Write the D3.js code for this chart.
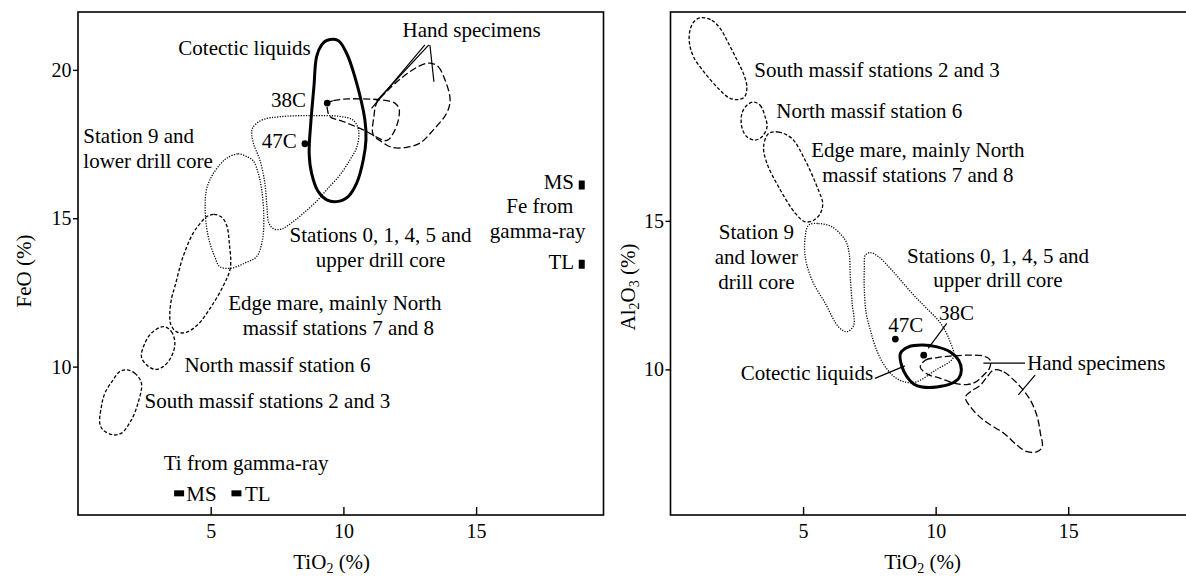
<!DOCTYPE html>
<html>
<head>
<meta charset="utf-8">
<script src="https://cdn.jsdelivr.net/npm/d3@7"></script>
<style>
  body { margin: 0; background: #fff; }
  svg text { font-family: "Liberation Serif", "Times New Roman", serif; fill: #000; }
</style>
</head>
<body>
<svg id="chart" width="1186" height="578"></svg>
<script>
// ---------- tick values ----------
const tio2Ticks = [5, 10, 15];
const feoTicks = [10, 15, 20];
const al2o3Ticks = [10, 15];

// ---------- FeO vs TiO2 fields, [TiO2 %, FeO %] ----------
const feoCotectic = [[9.37,20.99],[9.80,20.99],[10.12,20.56],[10.43,19.77],[10.81,18.31],[10.85,17.64],[10.75,16.97],[10.50,16.18],[10.18,15.73],[9.74,15.56],[9.37,15.62],[9.05,15.90],[8.80,16.52],[8.71,17.19],[8.77,18.20],[8.89,19.44],[8.99,20.45],[9.18,20.84]];
const feoHandA = [[9.39,18.88],[9.62,18.96],[10.12,19.02],[10.75,19.02],[11.38,18.99],[11.94,18.88],[12.10,18.68],[12.07,18.31],[11.88,17.87],[11.63,17.62],[10.75,17.98],[9.99,18.26],[9.49,18.43],[9.39,18.71]];
const feoHandB = [[13.26,20.23],[13.57,20.11],[13.83,19.66],[14.02,18.99],[13.89,18.54],[13.39,17.98],[12.88,17.53],[12.38,17.39],[11.82,17.39],[11.44,17.58],[11.12,17.81],[11.15,18.43],[11.25,18.88],[11.63,19.27],[12.25,19.77],[12.82,20.11]];
const feoStations0145 = [[6.58,18.05],[6.93,18.31],[7.60,18.42],[8.85,18.46],[9.87,18.43],[10.36,18.31],[10.57,17.98],[10.51,17.41],[10.25,16.97],[9.87,16.46],[9.37,15.96],[9.04,15.62],[8.55,15.21],[8.10,14.88],[7.68,14.64],[7.38,14.64],[7.19,14.84],[7.12,15.38],[7.04,16.19],[6.85,16.97],[6.63,17.47],[6.55,17.81]];
const feoStation9 = [[5.60,17.02],[6.03,17.17],[6.35,17.08],[6.60,16.94],[6.79,16.52],[6.92,15.96],[7.00,15.06],[6.95,14.27],[6.73,13.71],[6.29,13.49],[5.78,13.32],[5.34,13.37],[5.15,13.71],[4.97,14.16],[4.84,14.72],[4.79,15.39],[4.84,15.96],[5.03,16.40],[5.34,16.80]];
const feoEdgeMare = [[4.84,15.05],[5.12,15.13],[5.42,15.03],[5.61,14.74],[5.70,14.17],[5.74,13.33],[5.49,12.75],[5.04,12.05],[4.51,11.41],[4.06,11.15],[3.72,11.17],[3.50,11.41],[3.46,11.81],[3.53,12.32],[3.65,12.70],[3.96,13.71],[4.34,14.50],[4.59,14.81]];
const feoNorth6 = [[3.21,11.35],[3.52,11.18],[3.65,10.79],[3.52,10.34],[3.21,10.00],[2.89,9.91],[2.58,10.06],[2.39,10.34],[2.52,10.79],[2.77,11.13]];
const feoSouth23 = [[1.83,9.89],[2.14,9.78],[2.39,9.44],[2.26,8.77],[2.01,8.20],[1.64,7.76],[1.32,7.70],[0.94,7.87],[0.82,8.09],[0.88,8.65],[1.01,9.10],[1.32,9.55],[1.57,9.83]];
const feoSamples = [{name: "38C", tio2: 9.39, value: 18.88}, {name: "47C", tio2: 8.55, value: 17.51}];

// gamma-ray estimates
const tiGamma = [{name: "MS", tio2: 3.81}, {name: "TL", tio2: 5.97}];
const tiGammaFeo = 5.73;
const feGamma = [{name: "MS", feo: 16.12}, {name: "TL", feo: 13.45}];
const feGammaTio2 = 18.98;

// ---------- Al2O3 vs TiO2 fields, [TiO2 %, Al2O3 %] ----------
const alSouth23 = [[1.18,21.84],[1.56,21.75],[1.88,21.47],[2.19,20.97],[2.51,20.41],[2.75,19.96],[2.88,19.51],[2.79,19.17],[2.51,19.08],[2.19,19.15],[1.81,19.45],[1.31,19.96],[0.87,20.52],[0.71,21.02],[0.75,21.47],[0.93,21.75]];
const alNorth6 = [[3.13,19.00],[3.38,18.89],[3.57,18.50],[3.64,18.16],[3.45,17.83],[3.20,17.72],[2.88,17.83],[2.69,18.16],[2.69,18.61],[2.88,18.89]];
const alEdgeMare = [[3.70,17.94],[4.08,17.99],[4.58,17.77],[5.08,17.04],[5.58,16.03],[5.74,15.59],[5.65,15.25],[5.40,15.02],[5.08,14.97],[4.71,15.25],[4.08,16.14],[3.64,16.93],[3.51,17.49]];
const alStation9 = [[5.21,14.86],[5.58,14.91],[6.09,14.80],[6.59,14.35],[6.74,13.90],[6.78,13.12],[6.85,12.22],[6.91,11.49],[6.66,11.27],[6.34,11.43],[5.84,12.22],[5.34,13.00],[5.08,13.79],[5.08,14.46]];
const alStations0145 = [[7.35,13.85],[7.54,13.93],[7.85,13.79],[8.35,13.34],[9.11,12.56],[9.61,12.10],[10.18,11.56],[10.52,10.99],[10.67,10.41],[9.99,9.97],[9.27,9.58],[8.86,9.57],[8.44,9.75],[8.02,10.20],[7.72,10.78],[7.54,11.32],[7.38,11.89],[7.31,12.67],[7.31,13.41]];
const alCotectic = [[8.67,10.54],[8.98,10.76],[9.49,10.82],[10.05,10.76],[10.55,10.59],[10.87,10.31],[10.97,9.98],[10.87,9.70],[10.55,9.51],[10.05,9.41],[9.49,9.41],[9.17,9.51],[8.92,9.75],[8.73,10.09]];
const alHandA = [[9.42,10.08],[9.61,10.31],[10.06,10.40],[10.55,10.45],[11.20,10.48],[11.80,10.45],[12.06,10.31],[12.03,10.04],[11.81,9.81],[11.50,9.57],[11.18,9.49],[10.68,9.54],[10.18,9.70],[9.69,9.84]];
const alHandB = [[12.19,9.98],[12.57,9.92],[12.82,9.75],[13.20,9.41],[13.57,8.97],[13.83,8.41],[13.95,7.85],[14.02,7.40],[13.83,7.23],[13.45,7.23],[13.07,7.45],[12.57,7.85],[11.81,8.29],[11.31,8.74],[11.12,9.06],[11.31,9.25],[11.69,9.47],[11.94,9.75]];
const alSamples = [{name: "47C", tio2: 8.48, value: 11.02}, {name: "38C", tio2: 9.55, value: 10.48}];

// ---------- outline styles ----------
const outlineStyles = {
  cotectic: {width: 3, dash: null},
  hand:     {width: 1.3, dash: "7,3"},
  dashed:   {width: 1.3, dash: "3.5,2"},
  dotted:   {width: 1.3, dash: "1.2,1.4"}
};

const svg = d3.select("#chart");
const FONT = "Liberation Serif, Times New Roman, serif";

function drawPanel(cfg) {
  const x = d3.scaleLinear().domain(cfg.xDomain).range(cfg.xRange);
  const y = d3.scaleLinear().domain(cfg.yDomain).range(cfg.yRange);
  const g = svg.append("g");

  // frame
  g.append("rect")
    .attr("x", cfg.xRange[0]).attr("y", cfg.yRange[1])
    .attr("width", cfg.xRange[1] - cfg.xRange[0])
    .attr("height", cfg.yRange[0] - cfg.yRange[1])
    .attr("fill", "none").attr("stroke", "#000").attr("stroke-width", 1.6);

  // y axis: ticks outside
  const ya = g.append("g").attr("transform", `translate(${cfg.xRange[0]},0)`)
    .call(d3.axisLeft(y).tickValues(cfg.yTicks).tickSize(5).tickPadding(1.5));
  ya.select(".domain").remove();
  ya.selectAll("line").attr("stroke-width", 1.4);
  ya.selectAll("text").attr("font-size", 20).attr("font-family", FONT);

  // x axis: ticks inside
  const xa = g.append("g").attr("transform", `translate(0,${cfg.yRange[0]})`)
    .call(d3.axisBottom(x).tickValues(cfg.xTicks).tickSize(-8).tickPadding(9));
  xa.select(".domain").remove();
  xa.selectAll("line").attr("stroke-width", 1.4);
  xa.selectAll("text").attr("font-size", 20).attr("font-family", FONT);

  // outlines
  const line = d3.line()
    .x(d => x(d[0])).y(d => y(d[1]))
    .curve(d3.curveCatmullRomClosed.alpha(0.5));
  cfg.outlines.forEach(o => {
    const s = outlineStyles[o.style];
    g.append("path")
      .attr("d", line(o.pts))
      .attr("fill", "none")
      .attr("stroke", "#000")
      .attr("stroke-width", s.width)
      .attr("stroke-linejoin", "round")
      .attr("stroke-dasharray", s.dash);
  });

  // leader lines
  cfg.leaders.forEach(l => {
    g.append("line")
      .attr("x1", x(l[0][0])).attr("y1", y(l[0][1]))
      .attr("x2", x(l[1][0])).attr("y2", y(l[1][1]))
      .attr("stroke", "#000").attr("stroke-width", 1.2);
  });

  // sample points
  g.selectAll("circle.sample").data(cfg.samples).join("circle")
    .attr("class", "sample")
    .attr("cx", d => x(d.tio2)).attr("cy", d => y(d.value))
    .attr("r", 3.4).attr("fill", "#000");

  // annotations
  cfg.labels.forEach(l => {
    g.append("text")
      .attr("x", x(l.x)).attr("y", y(l.y))
      .attr("text-anchor", l.a)
      .attr("font-size", 21)
      .text(l.t);
  });

  // axis titles
  const xt = g.append("text")
    .attr("x", cfg.xTitlePos[0]).attr("y", cfg.xTitlePos[1])
    .attr("text-anchor", "middle").attr("font-size", 21);
  cfg.xTitle.forEach(p => xt.append("tspan").text(p.t)
    .attr("font-size", p.sub ? 14 : null).attr("dy", p.dy || 0));

  const yt = g.append("text")
    .attr("transform", `translate(${cfg.yTitlePos[0]},${cfg.yTitlePos[1]}) rotate(-90)`)
    .attr("text-anchor", "middle").attr("font-size", 21);
  cfg.yTitle.forEach(p => yt.append("tspan").text(p.t)
    .attr("font-size", p.sub ? 14 : null).attr("dy", p.dy || 0));

  return {x, y, g};
}

const tio2Title = [{t: "TiO"}, {t: "2", sub: true, dy: 3.5}, {t: " (%)", dy: -3.5}];

// ---------- FeO panel ----------
const left = drawPanel({
  xDomain: [0, 19.8], xRange: [78, 603.5],
  yDomain: [5, 21.95], yRange: [515, 12],
  xTicks: tio2Ticks, yTicks: feoTicks,
  outlines: [
    {pts: feoSouth23, style: "dashed"},
    {pts: feoNorth6, style: "dashed"},
    {pts: feoEdgeMare, style: "dashed"},
    {pts: feoStation9, style: "dotted"},
    {pts: feoStations0145, style: "dotted"},
    {pts: feoHandA, style: "hand"},
    {pts: feoHandB, style: "hand"},
    {pts: feoCotectic, style: "cotectic"}
  ],
  leaders: [
    [[13.07, 20.84], [11.06, 18.70]],
    [[13.22, 20.84], [11.25, 18.95]],
    [[13.26, 20.84], [13.41, 19.60]]
  ],
  samples: feoSamples,
  labels: [
    {t: "Cotectic liquids", x: 8.77, y: 20.50, a: "end"},
    {t: "Hand specimens", x: 14.83, y: 21.12, a: "middle"},
    {t: "38C", x: 8.59, y: 18.75, a: "end"},
    {t: "47C", x: 8.24, y: 17.37, a: "end"},
    {t: "Station 9 and", x: 0.20, y: 17.52, a: "start"},
    {t: "lower drill core", x: 0.20, y: 16.68, a: "start"},
    {t: "Stations 0, 1, 4, 5 and", x: 11.40, y: 14.21, a: "middle"},
    {t: "upper drill core", x: 11.40, y: 13.37, a: "middle"},
    {t: "Edge mare, mainly North", x: 9.68, y: 11.91, a: "middle"},
    {t: "massif stations 7 and 8", x: 9.81, y: 11.07, a: "middle"},
    {t: "North massif station 6", x: 4.01, y: 9.83, a: "start"},
    {t: "South massif stations 2 and 3", x: 2.51, y: 8.60, a: "start"},
    {t: "Ti from gamma-ray", x: 3.23, y: 6.52, a: "start"},
    {t: "MS", x: 4.08, y: 5.48, a: "start"},
    {t: "TL", x: 6.29, y: 5.48, a: "start"},
    {t: "MS", x: 18.69, y: 16.0, a: "end"},
    {t: "Fe from", x: 17.40, y: 15.16, a: "middle"},
    {t: "gamma-ray", x: 17.32, y: 14.33, a: "middle"},
    {t: "TL", x: 18.69, y: 13.29, a: "end"}
  ],
  xTitle: tio2Title, xTitlePos: [331.7, 569],
  yTitle: [{t: "FeO (%)"}], yTitlePos: [31, 271]
});

// gamma-ray markers on the FeO panel
left.g.selectAll("rect.ti").data(tiGamma).join("rect")
  .attr("class", "ti")
  .attr("x", d => left.x(d.tio2) - 5).attr("y", left.y(tiGammaFeo) - 3)
  .attr("width", 10).attr("height", 6).attr("fill", "#000");
left.g.selectAll("rect.fe").data(feGamma).join("rect")
  .attr("class", "fe")
  .attr("x", left.x(feGammaTio2) - 3).attr("y", d => left.y(d.feo) - 4.5)
  .attr("width", 6).attr("height", 9).attr("fill", "#000");

// ---------- Al2O3 panel ----------
drawPanel({
  xDomain: [0, 19.8], xRange: [670.5, 1195.5],
  yDomain: [5.1, 22.03], yRange: [515, 12],
  xTicks: tio2Ticks, yTicks: al2o3Ticks,
  outlines: [
    {pts: alSouth23, style: "dashed"},
    {pts: alNorth6, style: "dashed"},
    {pts: alEdgeMare, style: "dashed"},
    {pts: alStation9, style: "dotted"},
    {pts: alStations0145, style: "dotted"},
    {pts: alHandA, style: "hand"},
    {pts: alHandB, style: "hand"},
    {pts: alCotectic, style: "cotectic"}
  ],
  leaders: [
    [[10.42, 11.55], [9.72, 10.71]],
    [[7.71, 9.70], [8.84, 10.12]],
    [[11.80, 10.21], [13.37, 10.21]],
    [[13.75, 9.81], [13.12, 9.14]]
  ],
  samples: alSamples,
  labels: [
    {t: "South massif stations 2 and 3", x: 3.16, y: 19.85, a: "start"},
    {t: "North massif station 6", x: 3.99, y: 18.45, a: "start"},
    {t: "Edge mare, mainly North", x: 9.33, y: 17.16, a: "middle"},
    {t: "massif stations 7 and 8", x: 9.33, y: 16.32, a: "middle"},
    {t: "Station 9", x: 3.24, y: 14.38, a: "middle"},
    {t: "and lower", x: 3.24, y: 13.54, a: "middle"},
    {t: "drill core", x: 3.24, y: 12.70, a: "middle"},
    {t: "Stations 0, 1, 4, 5 and", x: 12.35, y: 13.57, a: "middle"},
    {t: "upper drill core", x: 12.35, y: 12.78, a: "middle"},
    {t: "47C", x: 8.21, y: 11.27, a: "start"},
    {t: "38C", x: 10.13, y: 11.66, a: "start"},
    {t: "Cotectic liquids", x: 7.64, y: 9.64, a: "end"},
    {t: "Hand specimens", x: 13.45, y: 9.98, a: "start"}
  ],
  xTitle: tio2Title, xTitlePos: [922.6, 569],
  yTitle: [{t: "Al"}, {t: "2", sub: true, dy: 4}, {t: "O", dy: -4}, {t: "3", sub: true, dy: 4}, {t: " (%)", dy: -4}],
  yTitlePos: [635, 287]
});
</script>
</body>
</html>
